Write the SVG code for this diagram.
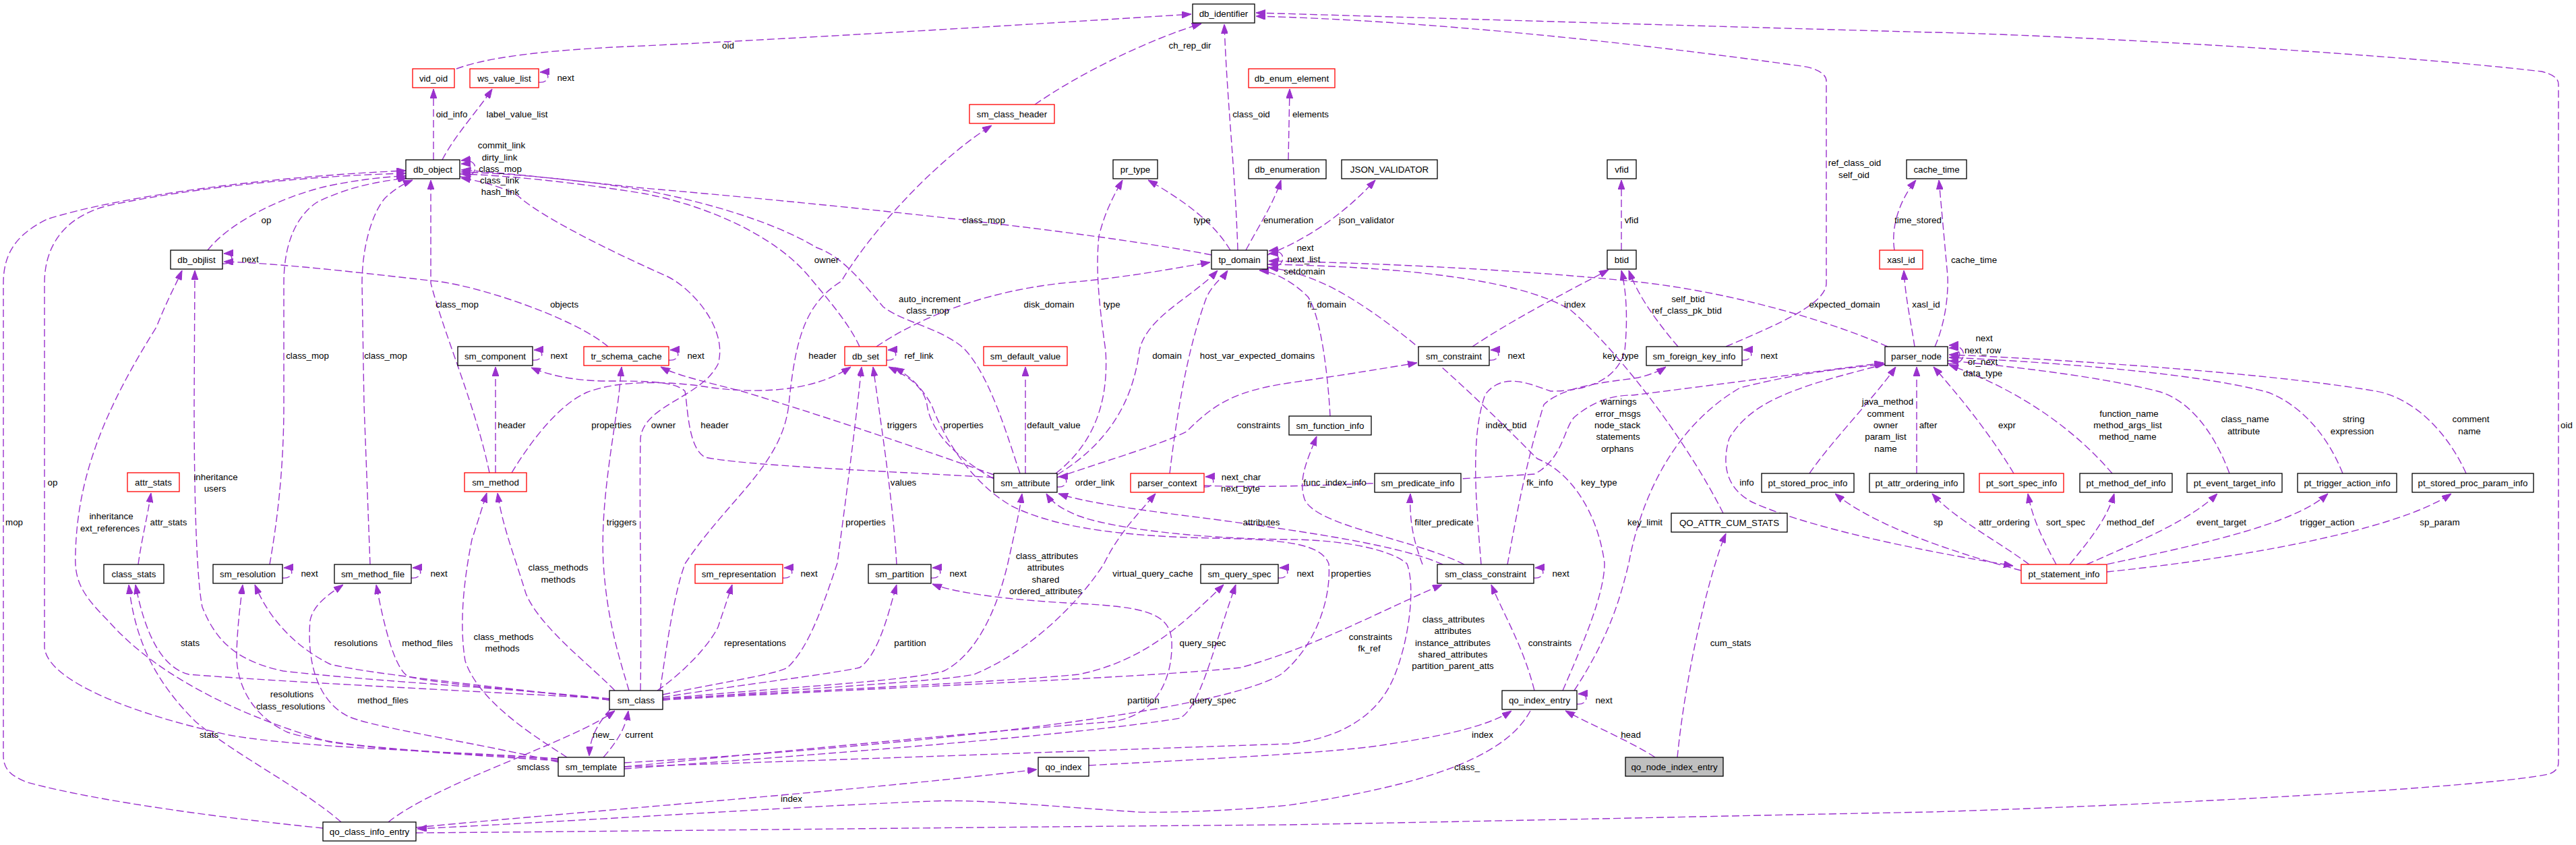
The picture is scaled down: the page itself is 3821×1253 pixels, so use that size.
<svg xmlns="http://www.w3.org/2000/svg" width="3821" height="1253" viewBox="0 0 3821 1253">
<style>
text{font-family:"Liberation Sans",Arial,Helvetica,sans-serif;font-size:13.33px;fill:#000;text-anchor:middle}
.n rect{fill:#fff;stroke:#000;stroke-width:1.3}
.r rect{fill:#fff;stroke:#ff0000;stroke-width:1.3}
.g rect{fill:#bfbfbf;stroke:#000;stroke-width:1.3}
#edges path{fill:none;stroke:#9a32cd;stroke-width:1.4;stroke-dasharray:11,5}
</style>
<defs>
<marker id="a" markerWidth="14" markerHeight="10" refX="14" refY="5" orient="auto" markerUnits="userSpaceOnUse"><path d="M0,0 L14,5 L0,10 z" fill="#9a32cd" stroke="#9a32cd" stroke-width="1"/></marker>
</defs>
<rect width="3821" height="1253" fill="#fff"/>
<g id="edges">
<path marker-end="url(#a)" d="M643,237 L643,132"/>
<path marker-end="url(#a)" d="M656,237 C675,200 712,160 730,132"/>
<path marker-end="url(#a)" d="M799,122 C815,124 819,106 801,107"/>
<path marker-end="url(#a)" d="M677,102 C720,86 800,74 955,68 C1200,56 1500,38 1767,21"/>
<path marker-end="url(#a)" d="M1535,155 C1600,110 1700,60 1782,35"/>
<path marker-end="url(#a)" d="M1836,371 C1832,250 1820,150 1816,36"/>
<path marker-end="url(#a)" d="M2560,514 C2640,480 2709,450 2709,420 L2709,120 C2709,108 2690,100 2672,98 C2400,60 2100,30 1863,24"/>
<path marker-end="url(#a)" d="M617,1235 C900,1233 1500,1226 1910,1223 C2300,1216 2600,1209 2865,1204 C3300,1190 3700,1165 3780,1148 C3792,1144 3795,1138 3795,1130 L3795,125 C3795,115 3785,110 3770,106 C3500,75 3000,50 2866,48 C2500,38 2100,26 1863,19"/>
<path marker-end="url(#a)" d="M1911,237 L1913,132"/>
<path marker-end="url(#a)" d="M979,1024 C990,950 1000,880 1016,836 C1080,740 1160,690 1170,600 C1180,500 1195,450 1248,417 C1300,330 1400,230 1471,186"/>
<path marker-end="url(#a)" d="M1275,514 C1260,480 1225,440 1200,410 C1150,350 1050,305 955,287 C850,270 750,260 684,258"/>
<path marker-end="url(#a)" d="M1513,702 C1495,650 1470,560 1431,518 C1400,488 1340,478 1310,455 C1280,420 1250,380 1211,367 C1150,330 1050,300 955,282 C850,265 750,257 684,255"/>
<path marker-end="url(#a)" d="M1797,378 C1600,340 1200,300 955,279 C850,268 750,256 684,252"/>
<path marker-end="url(#a)" d="M726,701 C705,600 660,500 639,420 L639,267"/>
<path marker-end="url(#a)" d="M400,837 C410,780 421,700 421,600 L421,420 C421,360 440,320 470,300 C520,275 570,268 604,264"/>
<path marker-end="url(#a)" d="M549,837 L540,600 L537,420 C537,370 550,320 570,295 C585,280 600,272 612,267"/>
<path marker-end="url(#a)" d="M950,1024 C952,900 948,760 950,650 C955,600 1040,590 1065,540 C1080,490 1030,430 990,410 C900,370 800,320 768,290 C740,275 710,268 684,264"/>
<path marker-end="url(#a)" d="M308,371 C340,330 420,290 490,275 C540,265 575,262 602,261"/>
<path marker-end="url(#a)" d="M330,391 C346,393 350,375 332,376"/>
<path marker-end="url(#a)" d="M682,258 C700,260 706,242 684,243"/>
<path marker-end="url(#a)" d="M682,262 C710,266 714,234 684,238"/>
<path marker-end="url(#a)" d="M479,1228 C350,1215 150,1190 40,1160 C15,1150 5,1140 5,1120 L5,420 C5,370 30,345 70,325 C180,290 400,262 602,253"/>
<path marker-end="url(#a)" d="M828,1125 C700,1115 450,1110 340,1090 C200,1060 70,1010 66,960 L66,420 C66,360 100,320 160,305 C300,275 480,260 602,257"/>
<path marker-end="url(#a)" d="M904,1036 C750,1020 550,1010 420,995 C350,980 320,950 300,900 C290,850 288,700 288,600 L289,401"/>
<path marker-end="url(#a)" d="M828,1128 C700,1120 550,1110 488,1100 C350,1060 230,1000 160,920 C120,880 110,860 112,820 C115,700 160,600 232,485 C250,440 262,420 270,401"/>
<path marker-end="url(#a)" d="M205,837 C210,800 218,770 224,731"/>
<path marker-end="url(#a)" d="M904,1036 C700,1025 400,1010 280,1000 C240,990 215,940 201,867"/>
<path marker-end="url(#a)" d="M506,1219 C450,1170 350,1120 290,1070 C230,1010 200,950 191,867"/>
<path marker-end="url(#a)" d="M904,1038 C750,1020 550,1000 490,985 C440,960 400,920 378,867"/>
<path marker-end="url(#a)" d="M828,1126 C700,1118 500,1110 427,1086 C370,1060 350,1010 351,969 C352,930 356,900 360,867"/>
<path marker-end="url(#a)" d="M904,1038 C800,1025 650,1015 605,1003 C585,990 570,930 558,867"/>
<path marker-end="url(#a)" d="M828,1130 C700,1100 560,1080 518,1063 C470,1040 455,980 460,920 C465,895 490,880 509,867"/>
<path marker-end="url(#a)" d="M912,1024 C880,990 800,930 780,880 C765,830 745,780 738,731"/>
<path marker-end="url(#a)" d="M841,1123 C790,1090 710,1040 690,980 C680,920 690,850 700,800 C710,770 716,750 722,731"/>
<path marker-end="url(#a)" d="M933,1024 C920,980 900,920 895,835 C890,750 910,650 918,585 L922,544"/>
<path marker-end="url(#a)" d="M759,701 C790,650 830,600 870,582 C920,562 1000,566 1050,574 C1150,588 1220,572 1262,544"/>
<path marker-end="url(#a)" d="M735,701 L735,544"/>
<path marker-end="url(#a)" d="M1474,708 C1300,698 1100,690 1046,678 C1020,665 1020,600 1016,580 C1000,565 960,565 900,565 C850,565 810,555 788,545"/>
<path marker-end="url(#a)" d="M790,534 C806,536 810,518 792,519"/>
<path marker-end="url(#a)" d="M992,534 C1008,536 1012,518 994,519"/>
<path marker-end="url(#a)" d="M1315,534 C1331,536 1335,518 1317,519"/>
<path marker-end="url(#a)" d="M1568,722 C1584,724 1588,706 1570,707"/>
<path marker-end="url(#a)" d="M1786,722 C1802,724 1806,706 1788,707"/>
<path marker-end="url(#a)" d="M2209,534 C2225,536 2229,518 2211,519"/>
<path marker-end="url(#a)" d="M2584,534 C2600,536 2604,518 2586,519"/>
<path marker-end="url(#a)" d="M2889,535 C2910,538 2914,515 2891,516"/>
<path marker-end="url(#a)" d="M2889,539 C2918,544 2922,510 2891,512"/>
<path marker-end="url(#a)" d="M419,857 C435,859 439,841 421,842"/>
<path marker-end="url(#a)" d="M610,857 C626,859 630,841 612,842"/>
<path marker-end="url(#a)" d="M1161,857 C1177,859 1181,841 1163,842"/>
<path marker-end="url(#a)" d="M1381,857 C1397,859 1401,841 1383,842"/>
<path marker-end="url(#a)" d="M1896,857 C1912,859 1916,841 1898,842"/>
<path marker-end="url(#a)" d="M2275,857 C2291,859 2295,841 2277,842"/>
<path marker-end="url(#a)" d="M2339,1044 C2355,1046 2359,1028 2341,1029"/>
<path marker-end="url(#a)" d="M1880,392 C1900,395 1904,375 1882,376"/>
<path marker-end="url(#a)" d="M1880,396 C1908,400 1912,368 1882,372"/>
<path marker-end="url(#a)" d="M975,1024 C1010,1000 1050,960 1065,930 C1075,900 1082,880 1086,867"/>
<path marker-end="url(#a)" d="M983,1034 C1100,1015 1230,1000 1275,990 C1305,970 1320,900 1330,867"/>
<path marker-end="url(#a)" d="M926,1137 C1100,1120 1400,1090 1650,1070 C1720,1060 1740,1000 1738,950 C1735,910 1700,900 1600,895 C1500,890 1420,880 1383,866"/>
<path marker-end="url(#a)" d="M983,1036 C1200,1025 1500,1010 1600,1000 C1700,980 1760,920 1815,867"/>
<path marker-end="url(#a)" d="M926,1140 C1200,1120 1600,1090 1750,1065 C1780,1050 1800,960 1833,867"/>
<path marker-end="url(#a)" d="M983,1036 C1150,1020 1350,1010 1400,995 C1450,970 1480,900 1495,835 C1505,790 1512,760 1516,732"/>
<path marker-end="url(#a)" d="M926,1137 C1300,1125 1700,1110 1911,1103 C1990,1095 2045,1060 2068,1003 C2090,950 2100,870 2087,836 C2060,812 1980,800 1911,800 C1750,798 1640,780 1600,765 C1575,755 1560,745 1552,732"/>
<path marker-end="url(#a)" d="M926,1131 C1300,1110 1800,1060 1900,1000 C1950,960 1975,890 1971,836 C1960,805 1900,800 1800,798 C1650,795 1560,780 1500,750 C1440,715 1400,650 1382,601 C1365,570 1345,555 1327,545"/>
<path marker-end="url(#a)" d="M2140,837 C2080,810 1950,790 1800,770 C1680,755 1610,745 1570,732"/>
<path marker-end="url(#a)" d="M983,1038 C1300,1020 1700,1005 1840,990 C1950,960 2060,900 2139,867"/>
<path marker-end="url(#a)" d="M2276,1024 C2260,960 2230,910 2212,867"/>
<path marker-end="url(#a)" d="M983,1038 C1200,1020 1400,1010 1445,1000 C1540,960 1610,880 1638,835 C1660,790 1690,760 1714,732"/>
<path marker-end="url(#a)" d="M1615,1135 C1800,1125 2000,1115 2062,1103 C2150,1090 2210,1075 2242,1054"/>
<path marker-end="url(#a)" d="M617,1227 C900,1200 1300,1170 1538,1141"/>
<path marker-end="url(#a)" d="M2270,1054 C2240,1110 2150,1160 1911,1194 C1800,1205 1700,1205 1687,1204 C1550,1195 1450,1185 1382,1188 C1200,1195 900,1215 619,1229"/>
<path marker-end="url(#a)" d="M2455,1123 C2420,1100 2360,1075 2322,1054"/>
<path marker-end="url(#a)" d="M2488,1123 C2500,1000 2535,850 2560,791"/>
<path marker-end="url(#a)" d="M576,1219 C650,1160 850,1100 912,1054"/>
<path marker-end="url(#a)" d="M905,1052 C885,1075 875,1095 874,1121"/>
<path marker-end="url(#a)" d="M895,1123 C915,1100 928,1080 932,1054"/>
<path marker-end="url(#a)" d="M1825,371 C1800,330 1760,300 1703,267"/>
<path marker-end="url(#a)" d="M1566,702 C1620,660 1645,600 1640,520 C1630,450 1625,400 1630,350 C1640,310 1655,285 1665,267"/>
<path marker-end="url(#a)" d="M1848,371 C1870,330 1890,300 1900,267"/>
<path marker-end="url(#a)" d="M1880,378 C1950,350 2000,310 2040,267"/>
<path marker-end="url(#a)" d="M2405,371 L2405,267"/>
<path marker-end="url(#a)" d="M2810,371 C2805,340 2815,300 2842,267"/>
<path marker-end="url(#a)" d="M2870,514 C2885,480 2890,440 2889,410 L2876,267"/>
<path marker-end="url(#a)" d="M2840,514 C2835,480 2826,440 2824,401"/>
<path marker-end="url(#a)" d="M2800,514 C2700,470 2550,430 2420,417 C2250,400 2050,390 1882,387"/>
<path marker-end="url(#a)" d="M2489,514 C2460,480 2430,440 2416,401"/>
<path marker-end="url(#a)" d="M2184,514 C2250,470 2330,430 2386,400"/>
<path marker-end="url(#a)" d="M2197,837 C2190,750 2180,650 2203,585 C2230,550 2270,570 2300,580 C2360,580 2400,560 2410,520 C2415,470 2412,430 2405,401"/>
<path marker-end="url(#a)" d="M2556,761 C2500,650 2400,520 2330,460 C2250,410 2050,395 1882,392"/>
<path marker-end="url(#a)" d="M2318,1024 C2350,950 2380,880 2380,835 C2370,760 2330,700 2280,680 C2200,600 2100,500 2000,440 C1950,410 1910,400 1882,397"/>
<path marker-end="url(#a)" d="M2335,1024 C2390,940 2405,880 2416,835 C2430,760 2470,640 2581,575 C2680,550 2750,545 2796,540"/>
<path marker-end="url(#a)" d="M2236,837 C2250,760 2265,680 2290,600 C2320,570 2400,565 2430,560 C2450,555 2462,550 2471,544"/>
<path marker-end="url(#a)" d="M2172,837 C2100,800 1950,780 1935,740 C1925,710 1940,680 1953,647"/>
<path marker-end="url(#a)" d="M2110,837 C2100,810 2090,780 2092,732"/>
<path marker-end="url(#a)" d="M1973,617 C1970,560 1960,470 1940,440 C1910,410 1880,402 1868,401"/>
<path marker-end="url(#a)" d="M1568,704 C1640,660 1680,600 1690,520 C1700,470 1770,440 1806,401"/>
<path marker-end="url(#a)" d="M1735,702 C1745,620 1760,520 1790,440 C1800,420 1815,410 1821,401"/>
<path marker-end="url(#a)" d="M1521,702 L1521,544"/>
<path marker-end="url(#a)" d="M1568,708 C1650,680 1720,660 1760,640 C1800,600 1830,580 1911,568 C2000,555 2060,545 2102,538"/>
<path marker-end="url(#a)" d="M1474,704 C1350,660 1200,610 1100,580 C1040,565 1000,555 980,544"/>
<path marker-end="url(#a)" d="M1474,710 C1420,680 1380,640 1375,600 C1370,570 1340,555 1318,544"/>
<path marker-end="url(#a)" d="M983,1030 C1080,1010 1150,1000 1168,990 C1200,960 1220,900 1242,835 C1260,700 1270,620 1278,544"/>
<path marker-end="url(#a)" d="M1330,837 C1325,750 1310,650 1295,544"/>
<path marker-end="url(#a)" d="M1786,720 C1900,725 2100,715 2276,703 C2320,680 2320,630 2337,617 C2370,590 2400,586 2422,586 C2550,570 2700,550 2794,538"/>
<path marker-end="url(#a)" d="M2684,702 C2720,650 2780,590 2812,544"/>
<path marker-end="url(#a)" d="M2843,702 L2843,544"/>
<path marker-end="url(#a)" d="M2987,702 C2950,640 2900,580 2868,544"/>
<path marker-end="url(#a)" d="M3133,702 C3080,640 3000,580 2891,541"/>
<path marker-end="url(#a)" d="M3307,702 C3280,630 3240,590 3200,580 C3100,555 2950,540 2891,535"/>
<path marker-end="url(#a)" d="M3475,702 C3450,640 3410,600 3365,582 C3250,550 3000,535 2891,530"/>
<path marker-end="url(#a)" d="M3658,702 C3630,640 3580,590 3524,580 C3350,550 3000,530 2891,526"/>
<path marker-end="url(#a)" d="M2796,540 C2680,570 2600,590 2565,650 C2550,700 2570,730 2600,745 C2700,790 2900,825 2986,839"/>
<path marker-end="url(#a)" d="M2998,846 C2900,820 2780,780 2722,732"/>
<path marker-end="url(#a)" d="M3010,837 C2960,800 2900,770 2866,732"/>
<path marker-end="url(#a)" d="M3050,837 C3030,800 3015,770 3008,732"/>
<path marker-end="url(#a)" d="M3070,837 C3100,800 3125,770 3136,732"/>
<path marker-end="url(#a)" d="M3095,837 C3180,800 3250,770 3289,732"/>
<path marker-end="url(#a)" d="M3110,840 C3250,810 3400,780 3453,732"/>
<path marker-end="url(#a)" d="M3125,848 C3300,830 3550,790 3636,732"/>
<path marker-end="url(#a)" d="M1300,514 C1350,480 1450,430 1595,418 C1680,410 1740,398 1795,389"/>
<path marker-end="url(#a)" d="M902,514 C850,470 700,420 637,416 C500,400 400,390 332,388"/>
</g>
<g id="edge-labels">
<text x="1080" y="72">oid</text>
<text x="1765" y="72">ch_rep_dir</text>
<text x="1856" y="174">class_oid</text>
<text x="1944" y="174">elements</text>
<text x="670" y="174">oid_info</text>
<text x="767" y="174">label_value_list</text>
<text x="839" y="120">next</text>
<text x="744" y="220">commit_link</text>
<text x="741" y="238">dirty_link</text>
<text x="742" y="255">class_mop</text>
<text x="741" y="272">class_link</text>
<text x="742" y="289">hash_link</text>
<text x="2751" y="246">ref_class_oid</text>
<text x="2750" y="264">self_oid</text>
<text x="1459" y="331">class_mop</text>
<text x="1783" y="331">type</text>
<text x="1911" y="331">enumeration</text>
<text x="2027" y="331">json_validator</text>
<text x="2420" y="331">vfid</text>
<text x="2845" y="331">time_stored</text>
<text x="395" y="331">op</text>
<text x="371" y="389">next</text>
<text x="1226" y="390">owner</text>
<text x="1936" y="372">next</text>
<text x="1934" y="389">next_list</text>
<text x="1935" y="407">setdomain</text>
<text x="2928" y="390">cache_time</text>
<text x="1379" y="448">auto_increment</text>
<text x="1376" y="465">class_mop</text>
<text x="1556" y="456">disk_domain</text>
<text x="1649" y="456">type</text>
<text x="678" y="456">class_mop</text>
<text x="837" y="456">objects</text>
<text x="1968" y="456">fi_domain</text>
<text x="2336" y="456">index</text>
<text x="2504" y="448">self_btid</text>
<text x="2502" y="465">ref_class_pk_btid</text>
<text x="2736" y="456">expected_domain</text>
<text x="2857" y="456">xasl_id</text>
<text x="2943" y="506">next</text>
<text x="2941" y="524">next_row</text>
<text x="2941" y="541">or_next</text>
<text x="2941" y="558">data_type</text>
<text x="456" y="532">class_mop</text>
<text x="572" y="532">class_mop</text>
<text x="829" y="532">next</text>
<text x="1032" y="532">next</text>
<text x="1220" y="532">header</text>
<text x="1363" y="532">ref_link</text>
<text x="1731" y="532">domain</text>
<text x="1865" y="532">host_var_expected_domains</text>
<text x="2249" y="532">next</text>
<text x="2404" y="532">key_type</text>
<text x="2624" y="532">next</text>
<text x="759" y="635">header</text>
<text x="907" y="635">properties</text>
<text x="984" y="635">owner</text>
<text x="1060" y="635">header</text>
<text x="1338" y="635">triggers</text>
<text x="1429" y="635">properties</text>
<text x="1563" y="635">default_value</text>
<text x="1867" y="635">constraints</text>
<text x="2234" y="635">index_btid</text>
<text x="2401" y="600">warnings</text>
<text x="2400" y="618">error_msgs</text>
<text x="2399" y="635">node_stack</text>
<text x="2400" y="652">statements</text>
<text x="2399" y="670">orphans</text>
<text x="2800" y="600">java_method</text>
<text x="2797" y="618">comment</text>
<text x="2797" y="635">owner</text>
<text x="2797" y="652">param_list</text>
<text x="2797" y="670">name</text>
<text x="2860" y="635">after</text>
<text x="2977" y="635">expr</text>
<text x="3158" y="618">function_name</text>
<text x="3156" y="635">method_args_list</text>
<text x="3156" y="652">method_name</text>
<text x="3330" y="626">class_name</text>
<text x="3328" y="644">attribute</text>
<text x="3491" y="626">string</text>
<text x="3489" y="644">expression</text>
<text x="3665" y="626">comment</text>
<text x="3663" y="644">name</text>
<text x="3807" y="635">oid</text>
<text x="78" y="720">op</text>
<text x="320" y="712">inheritance</text>
<text x="319" y="729">users</text>
<text x="1340" y="720">values</text>
<text x="1624" y="720">order_link</text>
<text x="1841" y="712">next_char</text>
<text x="1840" y="729">next_byte</text>
<text x="1980" y="720">func_index_info</text>
<text x="2284" y="720">fk_info</text>
<text x="2372" y="720">key_type</text>
<text x="2591" y="720">info</text>
<text x="21" y="779">mop</text>
<text x="165" y="770">inheritance</text>
<text x="163" y="788">ext_references</text>
<text x="250" y="779">attr_stats</text>
<text x="922" y="779">triggers</text>
<text x="1284" y="779">properties</text>
<text x="1871" y="779">attributes</text>
<text x="2142" y="779">filter_predicate</text>
<text x="2440" y="779">key_limit</text>
<text x="2875" y="779">sp</text>
<text x="2973" y="779">attr_ordering</text>
<text x="3064" y="779">sort_spec</text>
<text x="3160" y="779">method_def</text>
<text x="3295" y="779">event_target</text>
<text x="3452" y="779">trigger_action</text>
<text x="3619" y="779">sp_param</text>
<text x="1553" y="829">class_attributes</text>
<text x="1551" y="846">attributes</text>
<text x="1551" y="864">shared</text>
<text x="1551" y="881">ordered_attributes</text>
<text x="828" y="846">class_methods</text>
<text x="828" y="864">methods</text>
<text x="459" y="855">next</text>
<text x="651" y="855">next</text>
<text x="1200" y="855">next</text>
<text x="1421" y="855">next</text>
<text x="1710" y="855">virtual_query_cache</text>
<text x="1936" y="855">next</text>
<text x="2004" y="855">properties</text>
<text x="2315" y="855">next</text>
<text x="2156" y="923">class_attributes</text>
<text x="2155" y="940">attributes</text>
<text x="2155" y="958">instance_attributes</text>
<text x="2155" y="975">shared_attributes</text>
<text x="2155" y="992">partition_parent_atts</text>
<text x="282" y="958">stats</text>
<text x="528" y="958">resolutions</text>
<text x="634" y="958">method_files</text>
<text x="747" y="949">class_methods</text>
<text x="745" y="966">methods</text>
<text x="1120" y="958">representations</text>
<text x="1350" y="958">partition</text>
<text x="1784" y="958">query_spec</text>
<text x="2033" y="949">constraints</text>
<text x="2031" y="966">fk_ref</text>
<text x="2299" y="958">constraints</text>
<text x="2567" y="958">cum_stats</text>
<text x="433" y="1034">resolutions</text>
<text x="431" y="1052">class_resolutions</text>
<text x="568" y="1043">method_files</text>
<text x="1696" y="1043">partition</text>
<text x="1799" y="1043">query_spec</text>
<text x="2379" y="1043">next</text>
<text x="310" y="1094">stats</text>
<text x="895" y="1094">new_</text>
<text x="948" y="1094">current</text>
<text x="2199" y="1094">index</text>
<text x="2419" y="1094">head</text>
<text x="791" y="1142">smclass</text>
<text x="2176" y="1142">class_</text>
<text x="1174" y="1189">index</text>
</g>
<g id="db_identifier" class="n"><rect x="1769" y="6" width="92" height="28"/><text x="1815" y="25">db_identifier</text></g>
<g id="vid_oid" class="r"><rect x="612" y="102" width="62" height="28"/><text x="643" y="121">vid_oid</text></g>
<g id="ws_value_list" class="r"><rect x="697" y="102" width="102" height="28"/><text x="748" y="121">ws_value_list</text></g>
<g id="sm_class_header" class="r"><rect x="1438" y="155" width="126" height="28"/><text x="1501" y="174">sm_class_header</text></g>
<g id="db_enum_element" class="r"><rect x="1852" y="102" width="128" height="28"/><text x="1916" y="121">db_enum_element</text></g>
<g id="db_object" class="n"><rect x="602" y="237" width="80" height="28"/><text x="642" y="256">db_object</text></g>
<g id="pr_type" class="n"><rect x="1651" y="237" width="66" height="28"/><text x="1684" y="256">pr_type</text></g>
<g id="db_enumeration" class="n"><rect x="1852" y="237" width="115" height="28"/><text x="1909.5" y="256">db_enumeration</text></g>
<g id="JSON_VALIDATOR" class="n"><rect x="1990" y="237" width="142" height="28"/><text x="2061" y="256">JSON_VALIDATOR</text></g>
<g id="vfid" class="n"><rect x="2384" y="237" width="43" height="28"/><text x="2405.5" y="256">vfid</text></g>
<g id="cache_time" class="n"><rect x="2828" y="237" width="89" height="28"/><text x="2872.5" y="256">cache_time</text></g>
<g id="db_objlist" class="n"><rect x="253" y="371" width="77" height="28"/><text x="291.5" y="390">db_objlist</text></g>
<g id="tp_domain" class="n"><rect x="1797" y="371" width="83" height="28"/><text x="1838.5" y="390">tp_domain</text></g>
<g id="btid" class="n"><rect x="2384" y="371" width="43" height="28"/><text x="2405.5" y="390">btid</text></g>
<g id="xasl_id" class="r"><rect x="2788" y="371" width="64" height="28"/><text x="2820" y="390">xasl_id</text></g>
<g id="sm_component" class="n"><rect x="679" y="514" width="111" height="28"/><text x="734.5" y="533">sm_component</text></g>
<g id="tr_schema_cache" class="r"><rect x="866" y="514" width="126" height="28"/><text x="929" y="533">tr_schema_cache</text></g>
<g id="db_set" class="r"><rect x="1253" y="514" width="62" height="28"/><text x="1284" y="533">db_set</text></g>
<g id="sm_default_value" class="r"><rect x="1459" y="514" width="124" height="28"/><text x="1521" y="533">sm_default_value</text></g>
<g id="sm_constraint" class="n"><rect x="2104" y="514" width="105" height="28"/><text x="2156.5" y="533">sm_constraint</text></g>
<g id="sm_foreign_key_info" class="n"><rect x="2442" y="514" width="142" height="28"/><text x="2513" y="533">sm_foreign_key_info</text></g>
<g id="parser_node" class="n"><rect x="2796" y="514" width="93" height="28"/><text x="2842.5" y="533">parser_node</text></g>
<g id="sm_function_info" class="n"><rect x="1912" y="617" width="122" height="28"/><text x="1973" y="636">sm_function_info</text></g>
<g id="attr_stats" class="r"><rect x="189" y="701" width="77" height="28"/><text x="227.5" y="720">attr_stats</text></g>
<g id="sm_method" class="r"><rect x="689" y="701" width="92" height="28"/><text x="735" y="720">sm_method</text></g>
<g id="sm_attribute" class="n"><rect x="1474" y="702" width="94" height="28"/><text x="1521" y="721">sm_attribute</text></g>
<g id="parser_context" class="r"><rect x="1677" y="702" width="109" height="28"/><text x="1731.5" y="721">parser_context</text></g>
<g id="sm_predicate_info" class="n"><rect x="2039" y="702" width="128" height="28"/><text x="2103" y="721">sm_predicate_info</text></g>
<g id="pt_stored_proc_info" class="n"><rect x="2613" y="702" width="137" height="28"/><text x="2681.5" y="721">pt_stored_proc_info</text></g>
<g id="pt_attr_ordering_info" class="n"><rect x="2773" y="702" width="140" height="28"/><text x="2843" y="721">pt_attr_ordering_info</text></g>
<g id="pt_sort_spec_info" class="r"><rect x="2936" y="702" width="125" height="28"/><text x="2998.5" y="721">pt_sort_spec_info</text></g>
<g id="pt_method_def_info" class="n"><rect x="3085" y="702" width="137" height="28"/><text x="3153.5" y="721">pt_method_def_info</text></g>
<g id="pt_event_target_info" class="n"><rect x="3244" y="702" width="141" height="28"/><text x="3314.5" y="721">pt_event_target_info</text></g>
<g id="pt_trigger_action_info" class="n"><rect x="3408" y="702" width="147" height="28"/><text x="3481.5" y="721">pt_trigger_action_info</text></g>
<g id="pt_stored_proc_param_info" class="n"><rect x="3578" y="702" width="180" height="28"/><text x="3668" y="721">pt_stored_proc_param_info</text></g>
<g id="QO_ATTR_CUM_STATS" class="n"><rect x="2479" y="761" width="172" height="28"/><text x="2565" y="780">QO_ATTR_CUM_STATS</text></g>
<g id="class_stats" class="n"><rect x="154" y="837" width="89" height="28"/><text x="198.5" y="856">class_stats</text></g>
<g id="sm_resolution" class="n"><rect x="316" y="837" width="103" height="28"/><text x="367.5" y="856">sm_resolution</text></g>
<g id="sm_method_file" class="n"><rect x="496" y="837" width="114" height="28"/><text x="553" y="856">sm_method_file</text></g>
<g id="sm_representation" class="r"><rect x="1031" y="837" width="130" height="28"/><text x="1096" y="856">sm_representation</text></g>
<g id="sm_partition" class="n"><rect x="1288" y="837" width="93" height="28"/><text x="1334.5" y="856">sm_partition</text></g>
<g id="sm_query_spec" class="n"><rect x="1781" y="837" width="115" height="28"/><text x="1838.5" y="856">sm_query_spec</text></g>
<g id="sm_class_constraint" class="n"><rect x="2132" y="837" width="143" height="28"/><text x="2203.5" y="856">sm_class_constraint</text></g>
<g id="pt_statement_info" class="r"><rect x="2998" y="837" width="127" height="28"/><text x="3061.5" y="856">pt_statement_info</text></g>
<g id="sm_class" class="n"><rect x="904" y="1024" width="79" height="28"/><text x="943.5" y="1043">sm_class</text></g>
<g id="qo_index_entry" class="n"><rect x="2228" y="1024" width="111" height="28"/><text x="2283.5" y="1043">qo_index_entry</text></g>
<g id="sm_template" class="n"><rect x="828" y="1123" width="98" height="28"/><text x="877" y="1142">sm_template</text></g>
<g id="qo_index" class="n"><rect x="1540" y="1123" width="75" height="28"/><text x="1577.5" y="1142">qo_index</text></g>
<g id="qo_node_index_entry" class="g"><rect x="2411" y="1123" width="145" height="28"/><text x="2483.5" y="1142">qo_node_index_entry</text></g>
<g id="qo_class_info_entry" class="n"><rect x="479" y="1219" width="138" height="28"/><text x="548" y="1238">qo_class_info_entry</text></g>
</svg>
